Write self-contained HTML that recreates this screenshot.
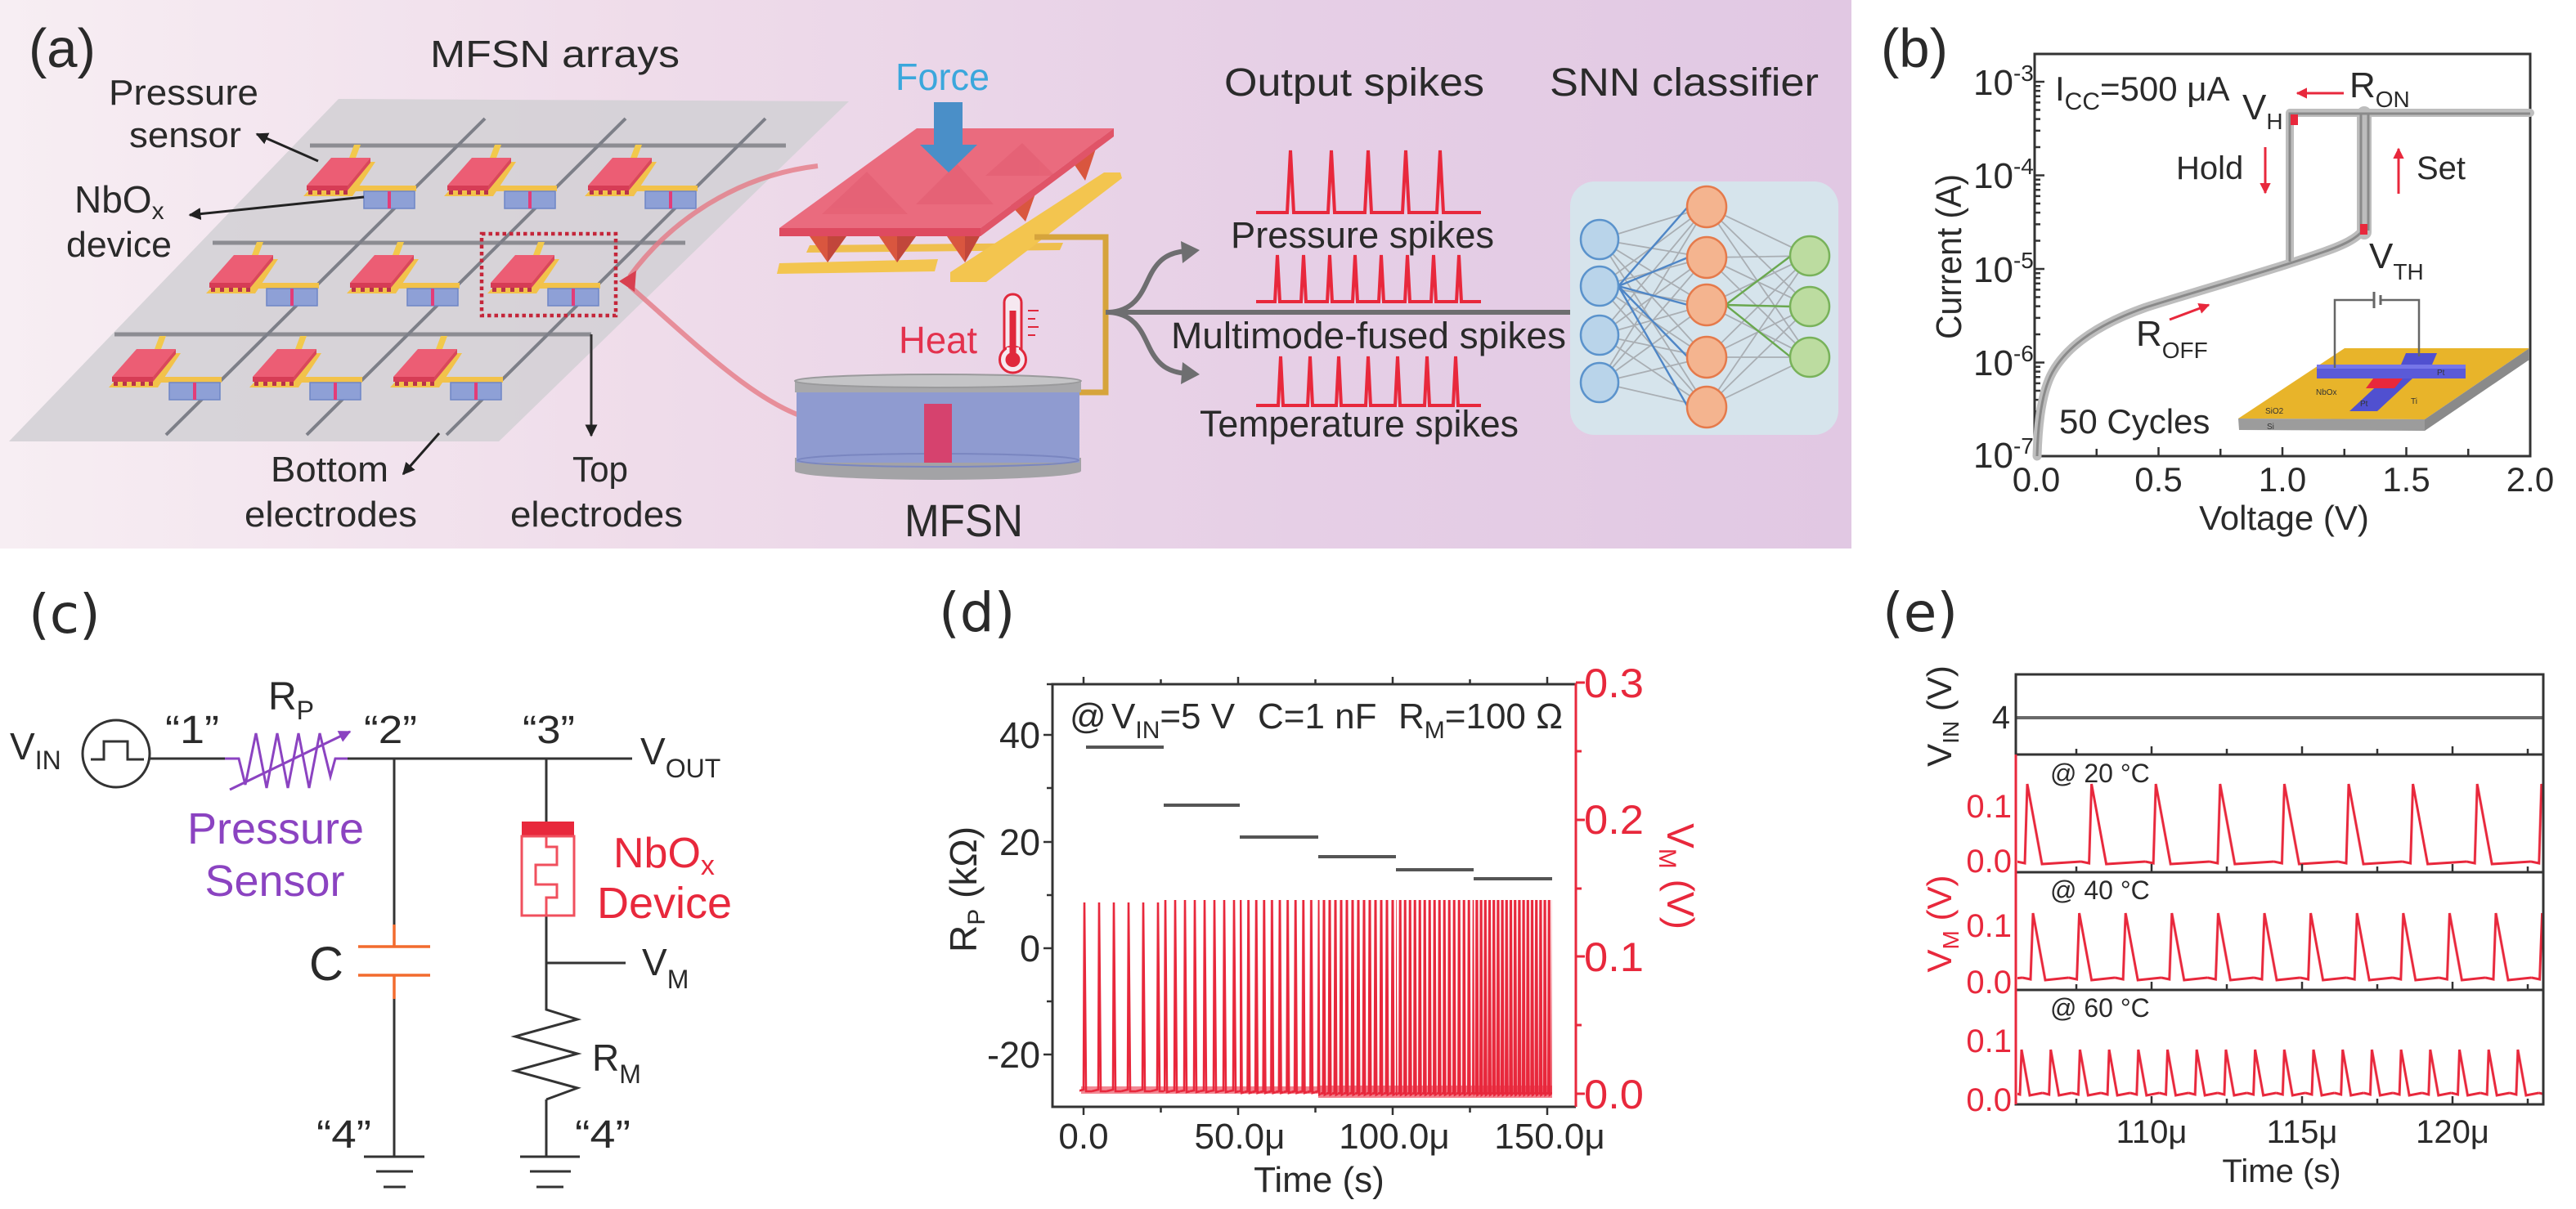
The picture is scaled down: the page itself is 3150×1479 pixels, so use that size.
<!DOCTYPE html>
<html><head><meta charset="utf-8"><style>html,body{margin:0;padding:0;background:#fff}svg{display:block}</style></head>
<body>
<svg xmlns="http://www.w3.org/2000/svg" xmlns:xlink="http://www.w3.org/1999/xlink" width="3150" height="1479" viewBox="0 0 3150 1479" font-family="'Liberation Sans', Arial, sans-serif">
<defs>
<linearGradient id="bgA" x1="0" y1="0" x2="1" y2="0">
<stop offset="0" stop-color="#f7eef3"/><stop offset="0.35" stop-color="#efdcea"/><stop offset="0.7" stop-color="#e6cfe6"/><stop offset="1" stop-color="#e1c8e3"/>
</linearGradient>
<marker id="mk" viewBox="0 0 10 10" refX="9" refY="5" markerWidth="5" markerHeight="5" orient="auto"><path d="M0,0L10,5L0,10z" fill="#222"/></marker>
<marker id="mr" viewBox="0 0 10 10" refX="9" refY="5" markerWidth="4.5" markerHeight="4.5" orient="auto"><path d="M0,0L10,5L0,10z" fill="#e8283c"/></marker>
<marker id="mp" viewBox="0 0 10 10" refX="9" refY="5" markerWidth="5" markerHeight="5" orient="auto"><path d="M0,0L10,5L0,10z" fill="#8b43c1"/></marker>
<g id="dev">
<polygon points="-18,-40 -10,-40 -4,-56 -12,-56" fill="#f2c94c"/>
<polygon points="-36,-35 14,-35 -14,7 -74,7" fill="#f2c24a"/>
<rect x="-22" y="-6" width="86" height="7" fill="#f2c24a"/>
<polygon points="-40,-40 8,-40 -20,-6 -70,-6" fill="#ec5d74"/>
<polygon points="8,-40 8,-34 -20,0 -20,-6" fill="#d9465c"/>
<rect x="-70" y="-6" width="50" height="6" fill="#d63c55"/>
<g fill="#b8324a"><rect x="-68" y="0" width="5" height="5"/><rect x="-57" y="0" width="5" height="5"/><rect x="-46" y="0" width="5" height="5"/><rect x="-35" y="0" width="5" height="5"/><rect x="-25" y="0" width="5" height="5"/></g>
<rect x="0" y="1" width="62" height="21" fill="#8ea0d6" stroke="#6f86c6" stroke-width="1.5"/>
<rect x="29" y="1" width="4" height="21" fill="#e33c78"/>
</g>
<pattern id="d1" patternUnits="userSpaceOnUse" x="1317" y="0" width="18" height="1479"><path d="M0,1335 L8,1333 L9,1104 L11,1335 L18,1335" fill="none" stroke="#e8283c" stroke-width="2.6"/></pattern>
<pattern id="d2" patternUnits="userSpaceOnUse" x="1419" y="0" width="12" height="1479"><path d="M0,1335 L5,1334 L6,1101 L8,1336 L12,1335" fill="none" stroke="#e8283c" stroke-width="2.6"/></pattern>
<pattern id="d3" patternUnits="userSpaceOnUse" x="1512" y="0" width="9.6" height="1479"><path d="M0,1336 L4,1335 L5,1101 L6.5,1337 L9.6,1336" fill="none" stroke="#e8283c" stroke-width="2.8"/></pattern>
<pattern id="d4" patternUnits="userSpaceOnUse" x="1608" y="0" width="7" height="1479"><path d="M0,1338 L3,1337 L4,1101 L5,1339 L7,1338" fill="none" stroke="#e8283c" stroke-width="3"/></pattern>
<pattern id="d5" patternUnits="userSpaceOnUse" x="1703" y="0" width="6" height="1479"><path d="M0,1338 L2.5,1337 L3.2,1101 L4.2,1339 L6,1338" fill="none" stroke="#e8283c" stroke-width="3"/></pattern>
<pattern id="d6" patternUnits="userSpaceOnUse" x="1798" y="0" width="5.2" height="1479"><path d="M0,1338 L2,1337 L2.7,1101 L3.6,1339 L5.2,1338" fill="none" stroke="#e8283c" stroke-width="3.2"/></pattern>
<pattern id="e20" patternUnits="userSpaceOnUse" x="2466" y="0" width="78.6" height="1479"><path d="M0,1054 L10,1056 L13,959 L31,1057 L78.6,1054" fill="none" stroke="#e8283c" stroke-width="3"/></pattern>
<pattern id="e40" patternUnits="userSpaceOnUse" x="2473" y="0" width="56.6" height="1479"><path d="M0,1196 L10,1198 L13,1117 L28,1199 L56.6,1196" fill="none" stroke="#e8283c" stroke-width="3"/></pattern>
<pattern id="e60" patternUnits="userSpaceOnUse" x="2462" y="0" width="35.7" height="1479"><path d="M0,1337 L8,1339 L10,1284 L20,1340 L35.7,1337" fill="none" stroke="#e8283c" stroke-width="3"/></pattern>
</defs>

<!-- ================= PANEL A ================= -->
<rect x="0" y="0" width="2264" height="671" fill="url(#bgA)"/>
<polygon points="414,121 1038,124 610,540 11,540" fill="#d3d0d5" opacity="0.88"/>
<g stroke="#8c8c92" stroke-width="5"><line x1="379" y1="178" x2="961" y2="178"/><line x1="260" y1="297" x2="838" y2="297"/><line x1="140" y1="409" x2="723" y2="409"/></g>
<g stroke="#7d7f88" stroke-width="4"><line x1="593" y1="145" x2="203" y2="532"/><line x1="765" y1="145" x2="375" y2="532"/><line x1="936" y1="145" x2="546" y2="532"/></g>
<use xlink:href="#dev" x="445" y="233"/><use xlink:href="#dev" x="617" y="233"/><use xlink:href="#dev" x="789" y="233"/>
<use xlink:href="#dev" x="326" y="352"/><use xlink:href="#dev" x="498" y="352"/><use xlink:href="#dev" x="670" y="352"/>
<use xlink:href="#dev" x="207" y="467"/><use xlink:href="#dev" x="379" y="467"/><use xlink:href="#dev" x="551" y="467"/>
<rect x="589" y="286" width="164" height="100" fill="none" stroke="#c4263a" stroke-width="4.5" stroke-dasharray="4.5 4"/>
<g stroke="#222" stroke-width="3" fill="none">
<line x1="389" y1="197" x2="314" y2="164" marker-end="url(#mk)"/>
<line x1="445" y1="241" x2="232" y2="263" marker-end="url(#mk)"/>
<line x1="537" y1="530" x2="493" y2="580" marker-end="url(#mk)"/>
<path d="M723,409 V533" stroke="#333" marker-end="url(#mk)"/>
</g>
<g fill="none" stroke="#e57a86" stroke-width="6" opacity="0.8">
<path d="M1000,203 C900,215 820,270 770,338"/>
<path d="M1000,515 C930,500 850,420 770,350"/>
</g>
<polygon points="757,344 778,331 776,357" fill="#d8404f"/>

<g fill="#2a2a2a">
<text x="35" y="82" font-size="67">(a)</text>
<text x="526" y="82" font-size="46" textLength="305" lengthAdjust="spacingAndGlyphs">MFSN arrays</text>
<text x="133" y="128" font-size="44" textLength="183" lengthAdjust="spacingAndGlyphs">Pressure</text>
<text x="158" y="180" font-size="44" textLength="137" lengthAdjust="spacingAndGlyphs">sensor</text>
<text x="91" y="260" font-size="46">NbO<tspan font-size="30" dy="8">x</tspan></text>
<text x="81" y="314" font-size="44" textLength="129" lengthAdjust="spacingAndGlyphs">device</text>
<text x="331" y="589" font-size="44" textLength="144" lengthAdjust="spacingAndGlyphs">Bottom</text>
<text x="299" y="644" font-size="44" textLength="211" lengthAdjust="spacingAndGlyphs">electrodes</text>
<text x="700" y="589" font-size="44" textLength="68" lengthAdjust="spacingAndGlyphs">Top</text>
<text x="624" y="644" font-size="44" textLength="211" lengthAdjust="spacingAndGlyphs">electrodes</text>
<text x="1106" y="656" font-size="56" textLength="145" lengthAdjust="spacingAndGlyphs">MFSN</text>
<text x="1497" y="117" font-size="48" textLength="318" lengthAdjust="spacingAndGlyphs">Output spikes</text>
<text x="1895" y="117" font-size="48" textLength="329" lengthAdjust="spacingAndGlyphs">SNN classifier</text>
<text x="1505" y="303" font-size="45" textLength="322" lengthAdjust="spacingAndGlyphs">Pressure spikes</text>
<text x="1432" y="426" font-size="45" textLength="483" lengthAdjust="spacingAndGlyphs">Multimode-fused spikes</text>
<text x="1467" y="534" font-size="45" textLength="390" lengthAdjust="spacingAndGlyphs">Temperature spikes</text>
</g>
<text x="1095" y="110" font-size="46" fill="#3ba7dc" textLength="115" lengthAdjust="spacingAndGlyphs">Force</text>
<text x="1099" y="432" font-size="46" fill="#e3324e" textLength="96" lengthAdjust="spacingAndGlyphs">Heat</text>

<!-- MFSN device -->
<polygon points="990,300 1300,297 1296,306 986,309" fill="#efbf4e"/>
<polygon points="953,322 1147,317 1143,332 950,335" fill="#f3c54f"/>
<polygon points="1162,333 1350,211 1370,211 1372,218 1206,345 1162,345" fill="#f3c54f"/>
<g fill="#d9563f">
<polygon points="990,289 1035,289 1012,321"/><polygon points="1075,289 1120,289 1097,321"/><polygon points="1158,289 1198,289 1180,321"/>
<polygon points="1236,251 1270,226 1254,271"/><polygon points="1310,196 1344,170 1327,221"/>
</g>
<g fill="#b8403a" opacity="0.7">
<polygon points="1012,289 1035,289 1012,321"/><polygon points="1097,289 1120,289 1097,321"/><polygon points="1180,289 1198,289 1180,321"/>
</g>
<polygon points="1121,157 1362,157 1199,279 953,279" fill="#ea6b7e"/>
<g fill="#e25d72" opacity="0.6"><polygon points="1060,210 1110,262 1005,262"/><polygon points="1170,200 1215,250 1120,250"/><polygon points="1250,175 1290,215 1205,215"/></g>
<polygon points="953,279 1199,279 1199,289 953,289" fill="#de4a60"/>
<polygon points="1199,279 1362,157 1362,167 1199,289" fill="#e05468"/>
<rect x="1142" y="125" width="35" height="53" fill="#4a8fc8"/>
<polygon points="1125,177 1195,177 1160,211" fill="#4a8fc8"/>
<path d="M1265,290 H1352 V480 H1319" fill="none" stroke="#d6a43c" stroke-width="7"/>
<rect x="1228" y="360" width="21" height="80" rx="10" fill="#f6e8f0" stroke="#e0283c" stroke-width="3"/>
<circle cx="1238.5" cy="440" r="16" fill="#f6e8f0" stroke="#e0283c" stroke-width="3"/>
<rect x="1231" y="425" width="15" height="10" fill="#f6e8f0"/>
<rect x="1234.5" y="380" width="8" height="60" fill="#e0283c"/>
<circle cx="1238.5" cy="440" r="9" fill="#e0283c"/>
<g stroke="#e0283c" stroke-width="2"><line x1="1257" y1="380" x2="1270" y2="380"/><line x1="1257" y1="390" x2="1266" y2="390"/><line x1="1257" y1="400" x2="1270" y2="400"/><line x1="1257" y1="410" x2="1266" y2="410"/></g>
<ellipse cx="1147" cy="576" rx="175" ry="11" fill="#a3a3a6"/>
<rect x="972" y="560" width="350" height="16" fill="#a3a3a6"/>
<rect x="974" y="478" width="346" height="88" fill="#8f9bd0"/>
<ellipse cx="1147" cy="563" rx="172" ry="8" fill="none" stroke="#7a86c0" stroke-width="2"/>
<rect x="972" y="466" width="350" height="14" fill="#a8a8ab"/>
<ellipse cx="1147" cy="466" rx="175" ry="8" fill="#c4c4c6" stroke="#9a9a9c" stroke-width="2"/>
<rect x="1130" y="494" width="34" height="72" fill="#d6426e"/>
<path d="M1352,382 H1920" stroke="#6e6e70" stroke-width="6"/>
<g fill="none" stroke="#6e6e70" stroke-width="6">
<path d="M1356,382 C1392,380 1398,352 1408,334 C1418,316 1430,309 1450,307"/>
<path d="M1356,382 C1392,384 1398,412 1408,430 C1418,448 1430,455 1450,457"/>
</g>
<polygon points="1444,295 1467,306 1446,322" fill="#6e6e70"/>
<polygon points="1446,443 1467,458 1444,470" fill="#6e6e70"/>
<g fill="none" stroke="#e8283c" stroke-width="4">
<path d="M1536,260 H1574 L1578,184 L1582,260 H1624 L1628,184 L1632,260 H1669 L1673,184 L1677,260 H1715 L1719,184 L1723,260 H1757 L1761,184 L1765,260 H1811"/>
<path d="M1536,369 H1559 L1562,312 L1565,369 H1591 L1594,312 L1597,369 H1623 L1626,312 L1629,369 H1654 L1657,312 L1660,369 H1686 L1689,312 L1692,369 H1718 L1721,312 L1724,369 H1750 L1753,312 L1756,369 H1781 L1784,312 L1787,369 H1811"/>
<path d="M1536,496 H1563 L1566,436 L1569,496 H1599 L1602,436 L1605,496 H1634 L1637,436 L1640,496 H1670 L1673,436 L1676,496 H1706 L1709,436 L1712,496 H1742 L1745,436 L1748,496 H1777 L1780,436 L1783,496 H1811"/>
</g>
<rect x="1920" y="222" width="328" height="310" rx="30" fill="#d6e4ec"/>
<path d="M1956,293L2087,253M1956,293L2087,315M1956,293L2087,373M1956,293L2087,437M1956,293L2087,498M1956,350L2087,253M1956,350L2087,315M1956,350L2087,373M1956,350L2087,437M1956,350L2087,498M1956,410L2087,253M1956,410L2087,315M1956,410L2087,373M1956,410L2087,437M1956,410L2087,498M1956,468L2087,253M1956,468L2087,315M1956,468L2087,373M1956,468L2087,437M1956,468L2087,498M2087,253L2213,313M2087,253L2213,375M2087,253L2213,437M2087,315L2213,313M2087,315L2213,375M2087,315L2213,437M2087,373L2213,313M2087,373L2213,375M2087,373L2213,437M2087,437L2213,313M2087,437L2213,375M2087,437L2213,437M2087,498L2213,313M2087,498L2213,375M2087,498L2213,437" stroke="#a9aeb3" stroke-width="1.8" fill="none"/>
<path d="M1979,350L2064,253M1979,350L2064,315M1979,350L2064,373M1979,350L2064,437M1979,350L2064,498" stroke="#4f86c6" stroke-width="2.4" fill="none"/>
<path d="M2110,373L2190,313M2110,373L2190,375M2110,373L2190,437" stroke="#6aa84f" stroke-width="2.4" fill="none"/>
<g fill="#b9d4ea" stroke="#5b93cc" stroke-width="2.5"><ellipse cx="1956" cy="293" rx="23" ry="24"/><ellipse cx="1956" cy="350" rx="23" ry="24"/><ellipse cx="1956" cy="410" rx="23" ry="24"/><ellipse cx="1956" cy="468" rx="23" ry="24"/></g>
<g fill="#f4b48f" stroke="#e57a4b" stroke-width="2.5"><ellipse cx="2087" cy="253" rx="24" ry="25"/><ellipse cx="2087" cy="315" rx="24" ry="25"/><ellipse cx="2087" cy="373" rx="24" ry="25"/><ellipse cx="2087" cy="437" rx="24" ry="25"/><ellipse cx="2087" cy="498" rx="24" ry="25"/></g>
<g fill="#bcdca0" stroke="#78b25a" stroke-width="2.5"><ellipse cx="2213" cy="313" rx="24" ry="24"/><ellipse cx="2213" cy="375" rx="24" ry="24"/><ellipse cx="2213" cy="437" rx="24" ry="24"/></g>

<!-- ================= PANEL B ================= -->
<text x="2300" y="82" font-size="67" fill="#2a2a2a">(b)</text>
<rect x="2488" y="66" width="606" height="492" fill="#fff" stroke="#333" stroke-width="3"/>
<path d="M2488,443.5h12M2488,329h12M2488,214.5h12M2488,100h12
M2488,523.5h7M2488,503.4h7M2488,489.1h7M2488,478h7M2488,468.9h7M2488,461.2h7M2488,454.6h7M2488,448.7h7
M2488,409h7M2488,388.9h7M2488,374.6h7M2488,363.5h7M2488,354.4h7M2488,346.7h7M2488,340.1h7M2488,334.2h7
M2488,294.5h7M2488,274.4h7M2488,260.1h7M2488,249h7M2488,239.9h7M2488,232.2h7M2488,225.6h7M2488,219.7h7
M2488,180h7M2488,159.9h7M2488,145.6h7M2488,134.5h7M2488,125.4h7M2488,117.7h7M2488,111.1h7M2488,105.2h7
M2563.75,558v-9M2639.5,558v-11M2715.25,558v-9M2791,558v-11M2866.75,558v-9M2942.5,558v-11M3018.25,558v-9" stroke="#333" stroke-width="2.5" fill="none"/>
<polygon points="2867,426 3093,426 2965,513 2737,512" fill="#e8b42a"/>
<polygon points="2737,512 2965,513 2965,527 2738,526" fill="#9c9c9c"/>
<polygon points="2965,513 3093,426 3093,440 2965,527" fill="#8a8a8a"/>
<polygon points="2873,503 2907,503 2950,463 2916,463" fill="#5050d0"/>
<polygon points="2902,463 2938,463 2928,475 2893,475" fill="#e8283c"/>
<polygon points="2942,432 2980,432 2974,446 2936,446" fill="#5050d0"/>
<rect x="2833" y="446" width="182" height="17" fill="#5a5ad8"/>
<rect x="2833" y="446" width="182" height="5" fill="#7676e8"/>
<path d="M2855,450 V367 H2903 M2912,367 H2958 V436" stroke="#666" stroke-width="2.5" fill="none"/>
<path d="M2903,357 V377 M2911,361 V373" stroke="#666" stroke-width="3"/>
<g font-size="10" fill="#333"><text x="2832" y="483">NbOx</text><text x="2980" y="459">Pt</text><text x="2886" y="497">Pt</text><text x="2948" y="494">Ti</text><text x="2770" y="506">SiO2</text><text x="2772" y="525">Si</text></g>
<g fill="none" stroke="#bdbdbd" stroke-linecap="round">
<path d="M2491,558 C2492,520 2496,480 2510,455 C2530,420 2570,395 2624,376 C2700,352 2780,330 2842,308 C2865,300 2882,292 2890,281" stroke-width="11"/>
<path d="M2800,320 V139" stroke-width="10"/>
<path d="M2800,138 H3094" stroke-width="10"/>
<path d="M2891,284 V139" stroke-width="18"/>
</g>
<g fill="none" stroke="#8a8a8a" stroke-width="3">
<path d="M2491,558 C2492,520 2496,480 2510,455 C2530,420 2570,395 2624,376 C2700,352 2780,330 2842,308 C2865,300 2882,292 2890,281"/>
<path d="M2800,320 V139 H3094"/>
<path d="M2887,284 V139 M2896,282 V139"/>
</g>
<rect x="2801" y="140" width="9" height="13" fill="#e8283c"/>
<rect x="2886" y="274" width="9" height="13" fill="#e8283c"/>
<g stroke="#e8283c" stroke-width="3" fill="none">
<line x1="2866" y1="114" x2="2809" y2="114" marker-end="url(#mr)"/>
<line x1="2770" y1="180" x2="2770" y2="236" marker-end="url(#mr)"/>
<line x1="2933" y1="237" x2="2933" y2="182" marker-end="url(#mr)"/>
<line x1="2653" y1="391" x2="2701" y2="373" marker-end="url(#mr)"/>
</g>
<g fill="#2a2a2a">
<text x="2513" y="123" font-size="42">I<tspan font-size="30" dy="11">CC</tspan><tspan dy="-11">=500 μA</tspan></text>
<text x="2742" y="146" font-size="44">V<tspan font-size="28" dy="12">H</tspan></text>
<text x="2873" y="119" font-size="44">R<tspan font-size="28" dy="12">ON</tspan></text>
<text x="2661" y="219" font-size="40">Hold</text>
<text x="2955" y="219" font-size="40">Set</text>
<text x="2897" y="328" font-size="44">V<tspan font-size="28" dy="14">TH</tspan></text>
<text x="2612" y="423" font-size="44">R<tspan font-size="28" dy="15">OFF</tspan></text>
<text x="2518" y="530" font-size="42">50 Cycles</text>
<g font-size="44"><text x="2413" y="116">10<tspan font-size="28" dy="-17">-3</tspan></text><text x="2413" y="230">10<tspan font-size="28" dy="-17">-4</tspan></text><text x="2413" y="345">10<tspan font-size="28" dy="-17">-5</tspan></text><text x="2413" y="459">10<tspan font-size="28" dy="-17">-6</tspan></text><text x="2413" y="572">10<tspan font-size="28" dy="-17">-7</tspan></text></g>
<g font-size="42" text-anchor="middle"><text x="2490" y="601">0.0</text><text x="2639.5" y="601">0.5</text><text x="2791" y="601">1.0</text><text x="2942.5" y="601">1.5</text><text x="3094" y="601">2.0</text></g>
<text x="2793" y="648" font-size="42" text-anchor="middle">Voltage (V)</text>
<text transform="translate(2398,314) rotate(-90)" font-size="44" text-anchor="middle" textLength="202" lengthAdjust="spacingAndGlyphs">Current (A)</text>
</g>

<!-- ================= PANEL C ================= -->
<text x="35" y="774" font-size="66" font-family="'DejaVu Sans', sans-serif" fill="#2a2a2a">(c)</text>
<g stroke="#333" stroke-width="3" fill="none">
<circle cx="142" cy="922" r="41"/>
<path d="M111,929 H127 V907 H156 V929 H176"/>
<path d="M183,928 H275 M425,928 H773 M482,928 V1131 M482,1222 V1415 M668,928 V1005 M668,1120 V1222 M668,1178 H765 M668,1345 V1415"/>
<path d="M445,1415 H519 M460,1433 H505 M469,1452 H496 M636,1415 H709 M648,1433 H698 M656,1452 H689"/>
<path d="M668,1222 V1235 L706,1247 L630,1268 L706,1289 L630,1310 L706,1331 L668,1345"/>
</g>
<path d="M482,1131 V1158 M438,1158 H526 M438,1193 H526 M482,1193 V1222" stroke="#f26b2e" stroke-width="3.5" fill="none"/>
<g stroke="#8b43c1" stroke-width="3" fill="none">
<path d="M275,928 H292 L300,960 L313,897 L326,964 L339,897 L352,964 L365,897 L378,964 L391,897 L404,950 L410,928 H425"/>
<line x1="281" y1="966" x2="428" y2="895" marker-end="url(#mp)"/>
</g>
<rect x="638" y="1005" width="64" height="18" fill="#e8283c"/>
<rect x="638" y="1023" width="64" height="97" fill="none" stroke="#f0505e" stroke-width="3"/>
<path d="M668,1023 V1036 H681 V1058 H655 V1082 H681 V1098 H668 V1120" fill="none" stroke="#f0505e" stroke-width="3"/>
<g fill="#2a2a2a">
<text x="12" y="929" font-size="46">V<tspan font-size="32" dy="12">IN</tspan></text>
<text x="202" y="909" font-size="48" textLength="66" lengthAdjust="spacingAndGlyphs">“1”</text>
<text x="445" y="909" font-size="48" textLength="65" lengthAdjust="spacingAndGlyphs">“2”</text>
<text x="639" y="909" font-size="48" textLength="64" lengthAdjust="spacingAndGlyphs">“3”</text>
<text x="328" y="868" font-size="48">R<tspan font-size="32" dy="12">P</tspan></text>
<text x="783" y="935" font-size="46">V<tspan font-size="32" dy="16">OUT</tspan></text>
<text x="378" y="1199" font-size="58">C</text>
<text x="785" y="1193" font-size="46">V<tspan font-size="32" dy="16">M</tspan></text>
<text x="724" y="1310" font-size="46">R<tspan font-size="32" dy="15">M</tspan></text>
<text x="387" y="1404" font-size="48" textLength="67" lengthAdjust="spacingAndGlyphs">“4”</text>
<text x="703" y="1404" font-size="48" textLength="68" lengthAdjust="spacingAndGlyphs">“4”</text>
</g>
<g fill="#8b43c1" font-size="54" text-anchor="middle"><text x="337" y="1032">Pressure</text><text x="336" y="1096">Sensor</text></g>
<g fill="#e8283c"><text x="750" y="1061" font-size="52">NbO<tspan font-size="34" dy="9">x</tspan></text><text x="730" y="1123" font-size="54">Device</text></g>

<!-- ================= PANEL D ================= -->
<text x="1148" y="772" font-size="66" font-family="'DejaVu Sans', sans-serif" fill="#2a2a2a">(d)</text>
<rect x="1320" y="1095" width="103" height="250" fill="url(#d1)"/>
<rect x="1423" y="1095" width="93" height="250" fill="url(#d2)"/>
<rect x="1516" y="1095" width="96" height="250" fill="url(#d3)"/>
<rect x="1612" y="1095" width="95" height="250" fill="url(#d4)"/>
<rect x="1707" y="1095" width="95" height="250" fill="url(#d5)"/>
<rect x="1802" y="1095" width="96" height="250" fill="url(#d6)"/>
<rect x="1322" y="1329" width="290" height="9" fill="#e8283c" opacity="0.55"/>
<rect x="1612" y="1328" width="286" height="15" fill="#e8283c" opacity="0.6"/>
<g stroke="#555" stroke-width="4"><path d="M1328,914 H1423 M1423,985 H1516 M1516,1024 H1612 M1612,1048 H1707 M1707,1064 H1802 M1802,1075 H1898"/></g>
<path d="M1927,837 H1287 V1354 H1927" fill="none" stroke="#333" stroke-width="3"/>
<path d="M1287,899h-11M1287,1030h-11M1287,1160h-11M1287,1290h-11M1287,837h-7M1287,964h-7M1287,1095h-7M1287,1225h-7
M1325,1354v10M1419.5,1354v7M1514,1354v10M1608.5,1354v7M1703,1354v10M1797.5,1354v7M1892,1354v10
M1325,837v-9M1419.5,837v-6M1514,837v-9M1608.5,837v-6M1703,837v-9M1797.5,837v-6M1892,837v-9" stroke="#333" stroke-width="2.5" fill="none"/>
<path d="M1927,836 V1354 M1927,835h11M1927,1003h11M1927,1170h11M1927,1338h11M1927,919h7M1927,1087h7M1927,1254h7" stroke="#e8283c" stroke-width="3" fill="none"/>
<g fill="#2a2a2a">
<g font-size="45" text-anchor="end"><text x="1272" y="915">40</text><text x="1272" y="1046">20</text><text x="1272" y="1176">0</text><text x="1272" y="1306">-20</text></g>
<g font-size="44" text-anchor="middle"><text x="1325" y="1405">0.0</text><text x="1516" y="1405">50.0μ</text><text x="1705" y="1405">100.0μ</text><text x="1895" y="1405">150.0μ</text></g>
<text x="1613" y="1458" font-size="44" text-anchor="middle">Time (s)</text>
<text y="891" font-size="44"><tspan x="1308">@</tspan><tspan x="1359">V</tspan><tspan font-size="30" dy="12">IN</tspan><tspan dy="-12">=5 V</tspan><tspan x="1538">C=1 nF</tspan><tspan x="1710">R</tspan><tspan font-size="30" dy="12">M</tspan><tspan dy="-12">=100 Ω</tspan></text>
<text transform="translate(1194,1088) rotate(-90)" font-size="46" text-anchor="middle">R<tspan font-size="30" dy="10">P</tspan><tspan dy="-10"> (kΩ)</tspan></text>
</g>
<g fill="#e8283c">
<g font-size="50"><text x="1937" y="853" textLength="73" lengthAdjust="spacingAndGlyphs">0.3</text><text x="1937" y="1020" textLength="73" lengthAdjust="spacingAndGlyphs">0.2</text><text x="1937" y="1188" textLength="73" lengthAdjust="spacingAndGlyphs">0.1</text><text x="1937" y="1356" textLength="73" lengthAdjust="spacingAndGlyphs">0.0</text></g>
<text transform="translate(2039,1072) rotate(90)" font-size="46" text-anchor="middle">V<tspan font-size="30" dy="10">M</tspan><tspan dy="-10"> (V)</tspan></text>
</g>

<!-- ================= PANEL E ================= -->
<text x="2302" y="772" font-size="66" font-family="'DejaVu Sans', sans-serif" fill="#2a2a2a">(e)</text>
<rect x="2467" y="935" width="642" height="130" fill="url(#e20)"/>
<rect x="2467" y="1078" width="642" height="131" fill="url(#e40)"/>
<rect x="2467" y="1222" width="642" height="127" fill="url(#e60)"/>
<path d="M2465,878 H3110" stroke="#6a6a6a" stroke-width="4"/>
<rect x="2465" y="825" width="645" height="526" fill="none" stroke="#333" stroke-width="3"/>
<path d="M2465,923 H3110 M2465,1067 H3110 M2465,1211 H3110" stroke="#333" stroke-width="3"/>
<path d="M2539,923v-7M2631,923v-10M2723,923v-7M2815,923v-10M2907,923v-7M2999,923v-10M3091,923v-7
M2539,1067v-7M2631,1067v-10M2723,1067v-7M2815,1067v-10M2907,1067v-7M2999,1067v-10M3091,1067v-7
M2539,1211v-7M2631,1211v-10M2723,1211v-7M2815,1211v-10M2907,1211v-7M2999,1211v-10M3091,1211v-7
M2539,1351v-7M2631,1351v-10M2723,1351v-7M2815,1351v-10M2907,1351v-7M2999,1351v-10M3091,1351v-7" stroke="#333" stroke-width="2.5" fill="none"/>
<path d="M2465,923 V1351" stroke="#e8283c" stroke-width="3"/>
<g fill="#2a2a2a">
<text x="2458" y="891" font-size="40" text-anchor="end">4</text>
<g font-size="32"><text x="2507" y="957">@ 20 °C</text><text x="2507" y="1100">@ 40 °C</text><text x="2507" y="1244">@ 60 °C</text></g>
<g font-size="40" text-anchor="middle"><text x="2631" y="1398">110μ</text><text x="2815" y="1398">115μ</text><text x="2999" y="1398">120μ</text></g>
<text x="2790" y="1446" font-size="40" text-anchor="middle">Time (s)</text>
<text transform="translate(2386,876) rotate(-90)" font-size="42" text-anchor="middle">V<tspan font-size="28" dy="9">IN</tspan><tspan dy="-9"> (V)</tspan></text>
</g>
<g fill="#e8283c">
<g font-size="40" text-anchor="end"><text x="2460" y="1000">0.1</text><text x="2460" y="1067">0.0</text><text x="2460" y="1146">0.1</text><text x="2460" y="1215">0.0</text><text x="2460" y="1287">0.1</text><text x="2460" y="1359">0.0</text></g>
<text transform="translate(2386,1130) rotate(-90)" font-size="42" text-anchor="middle">V<tspan font-size="28" dy="9">M</tspan><tspan dy="-9"> (V)</tspan></text>
</g>
</svg>
</body></html>
